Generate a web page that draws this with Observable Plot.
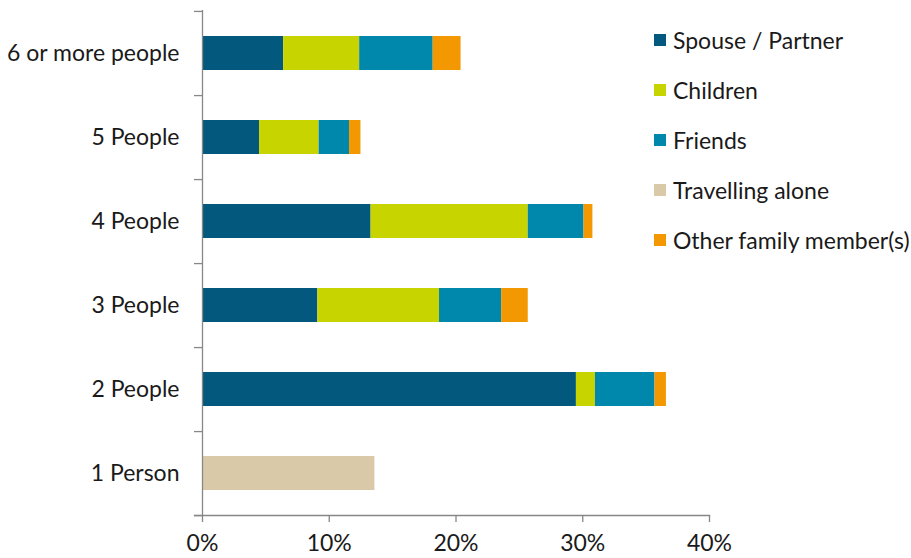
<!DOCTYPE html>
<html><head><meta charset="utf-8">
<script src="https://cdn.jsdelivr.net/npm/d3@7"></script>
<script src="https://cdn.jsdelivr.net/npm/@observablehq/plot@0.6"></script>
<style>
body{margin:0;background:#fff;font-family:Lato, sans-serif;}
#wrap{position:relative;width:911px;height:558px;}
#legend{position:absolute;left:654px;top:15px;}
.row{display:flex;align-items:center;height:50px;font-size:23px;color:#1a1a1a;white-space:nowrap}
.sw{width:12px;height:12px;margin-right:7px;flex:none}
</style></head><body><div id="wrap"><div id="legend"></div></div>
<script>
const categories = ["6 or more people","5 People","4 People","3 People","2 People","1 Person"];
const series = ["Spouse / Partner","Children","Friends","Travelling alone","Other family member(s)"];
const colors = ["#03587D","#C8D400","#0088AC","#D9C9A9","#F39800"];
const spouse   = [6.4, 4.5, 13.3, 9.1, 29.5, 0];
const children = [6.0, 4.7, 12.4, 9.6, 1.5, 0];
const friends  = [5.8, 2.4, 4.4, 4.9, 4.7, 0];
const alone    = [0, 0, 0, 0, 0, 13.6];
const other    = [2.2, 0.9, 0.7, 2.1, 0.9, 0];
const xTicks = [0, 10, 20, 30, 40];

const valuesBySeries = [spouse, children, friends, alone, other];
const data = [];
series.forEach((s, si) => categories.forEach((c, ci) => {
  data.push({cat: c, series: s, value: valuesBySeries[si][ci]});
}));

const W = 911, H = 558, mt = 10, mb = 43, ml = 202, mr = 202;
const step = (H - mt - mb) / categories.length;
const axisColor = "#878787";

const chart = Plot.plot({
  width: W, height: H, marginTop: mt, marginBottom: mb, marginLeft: ml, marginRight: mr,
  style: {fontFamily: "Lato, sans-serif", fontSize: "23px", color: "#1a1a1a", background: "transparent", overflow: "visible"},
  x: {domain: [0, 40]},
  y: {domain: categories, paddingInner: 0.6, paddingOuter: 0.3},
  color: {domain: series, range: colors},
  marks: [
    Plot.barX(data, {y: "cat", x: "value", fill: "series"}),
    Plot.ruleX([0], {stroke: axisColor, strokeWidth: 1.3}),
    Plot.frame({anchor: "bottom", stroke: axisColor, strokeWidth: 1.3, insetLeft: -8}),
    Plot.axisY({tickSize: 0, tickPadding: 23, label: null, fontSize: 23}),
    Plot.axisY({tickSize: 8, text: null, label: null, dy: step / 2, stroke: axisColor, strokeWidth: 1.3}),
    Plot.axisY([categories[0]], {tickSize: 8, text: null, label: null, dy: -step / 2, stroke: axisColor, strokeWidth: 1.3}),
    Plot.axisX({ticks: xTicks, tickFormat: d => d + "%", tickSize: 7, tickPadding: 12, label: null, stroke: axisColor, strokeWidth: 1.3, fontSize: 23})
  ]
});
document.getElementById("wrap").prepend(chart);

const legend = document.getElementById("legend");
series.forEach((s, i) => {
  const row = document.createElement("div");
  row.className = "row";
  const sw = document.createElement("span");
  sw.className = "sw";
  sw.style.background = colors[i];
  const t = document.createElement("span");
  t.textContent = s;
  row.append(sw, t);
  legend.append(row);
});
</script></body></html>
